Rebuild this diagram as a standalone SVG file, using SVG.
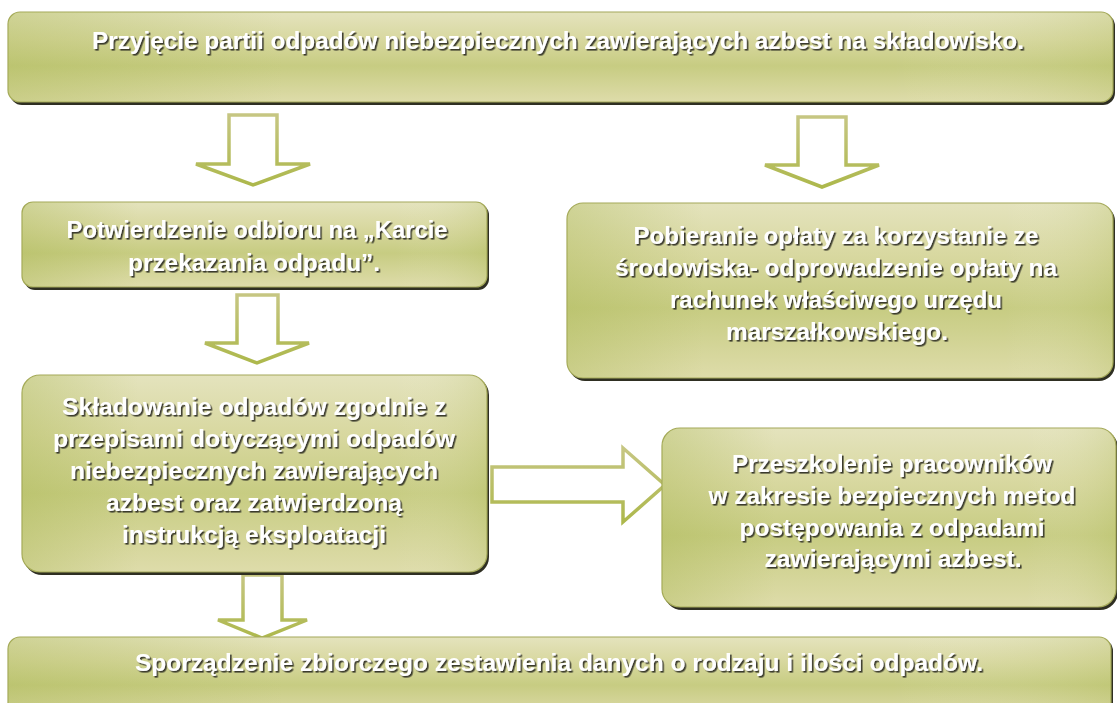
<svg xmlns="http://www.w3.org/2000/svg" width="1117" height="703" viewBox="0 0 1117 703">
  <defs>
    <linearGradient id="boxFill" x1="0" y1="0" x2="0" y2="1">
      <stop offset="0" stop-color="#e4e3bd"/>
      <stop offset="0.3" stop-color="#d8d8a0"/>
      <stop offset="0.6" stop-color="#c7cc82"/>
      <stop offset="1" stop-color="#dedcaa"/>
    </linearGradient>
    <linearGradient id="sideShade" x1="0" y1="0" x2="1" y2="0">
      <stop offset="0" stop-color="#a8b650" stop-opacity="0.35"/>
      <stop offset="0.25" stop-color="#a8b650" stop-opacity="0"/>
      <stop offset="0.8" stop-color="#ffffff" stop-opacity="0"/>
      <stop offset="1" stop-color="#a8b650" stop-opacity="0.2"/>
    </linearGradient>
    <linearGradient id="arrowStroke" x1="0" y1="0" x2="0" y2="1">
      <stop offset="0" stop-color="#c6c682"/>
      <stop offset="1" stop-color="#adb84c"/>
    </linearGradient>
    <filter id="txtShadow" x="-5%" y="-30%" width="110%" height="160%">
      <feDropShadow dx="1.6" dy="1.6" stdDeviation="0.5" flood-color="#333326" flood-opacity="0.95"/>
    </filter>
  </defs>
  <style>
    .shadow { fill: #2f2f22; }
    .box { fill: url(#boxFill); stroke: #a4a85a; stroke-width: 1.2; }
    .sheen { fill: url(#sideShade); }
    .lbl { font-family: "Liberation Sans", Arial, sans-serif; font-weight: bold; font-size: 23px; fill: #ffffff; text-anchor: middle; filter: url(#txtShadow); }
    .arrow { fill: #ffffff; stroke: url(#arrowStroke); stroke-width: 3.5; stroke-linejoin: miter; }
  </style>
  <rect width="1117" height="703" fill="#ffffff"/>

  <g id="connectors">
    <polygon class="arrow" points="229,115 277,115 277,164 310,164 253,185 196,164 229,164"/>
    <polygon class="arrow" points="237,295 278,295 278,343 309,343 257,363 205,343 237,343"/>
    <polygon class="arrow" points="798,117 846,117 846,165 879,165 822,187 765,165 798,165"/>
    <polygon class="arrow" points="243,575 282,575 282,620 307,620 262,638 218,620 243,620"/>
    <polygon class="arrow" points="492,467 623,467 623,448 665,485 623,522 623,502 492,502"/>
  </g>

  <g id="node-przyjecie">
    <rect class="shadow" x="10" y="14" width="1105" height="91" rx="12"/>
    <rect class="box" x="8" y="12" width="1105" height="90" rx="12"/>
    <rect class="sheen" x="8" y="12" width="1105" height="90" rx="12"/>
    <text class="lbl" x="558" y="49" textLength="932" lengthAdjust="spacingAndGlyphs">Przyjęcie partii odpadów niebezpiecznych zawierających azbest na składowisko.</text>
  </g>

  <g id="node-potwierdzenie">
    <rect class="shadow" x="24" y="204" width="465" height="86" rx="11"/>
    <rect class="box" x="22" y="202" width="465" height="85" rx="11"/>
    <rect class="sheen" x="22" y="202" width="465" height="85" rx="11"/>
    <text class="lbl" x="257" y="238" textLength="381" lengthAdjust="spacingAndGlyphs">Potwierdzenie odbioru na „Karcie</text>
    <text class="lbl" x="254" y="271" textLength="252" lengthAdjust="spacingAndGlyphs">przekazania odpadu”.</text>
  </g>

  <g id="node-pobieranie">
    <rect class="shadow" x="569" y="205" width="546" height="176" rx="16"/>
    <rect class="box" x="567" y="203" width="546" height="175" rx="16"/>
    <rect class="sheen" x="567" y="203" width="546" height="175" rx="16"/>
    <text class="lbl" x="836" y="244" textLength="405" lengthAdjust="spacingAndGlyphs">Pobieranie opłaty za korzystanie ze</text>
    <text class="lbl" x="836" y="276" textLength="442" lengthAdjust="spacingAndGlyphs">środowiska- odprowadzenie opłaty na</text>
    <text class="lbl" x="836" y="308" textLength="332" lengthAdjust="spacingAndGlyphs">rachunek właściwego urzędu</text>
    <text class="lbl" x="837" y="340" textLength="222" lengthAdjust="spacingAndGlyphs">marszałkowskiego.</text>
  </g>

  <g id="node-skladowanie">
    <rect class="shadow" x="24" y="377" width="465" height="198" rx="18"/>
    <rect class="box" x="22" y="375" width="465" height="197" rx="18"/>
    <rect class="sheen" x="22" y="375" width="465" height="197" rx="18"/>
    <text class="lbl" x="254" y="415" textLength="384" lengthAdjust="spacingAndGlyphs">Składowanie odpadów zgodnie z</text>
    <text class="lbl" x="254" y="447" textLength="402" lengthAdjust="spacingAndGlyphs">przepisami dotyczącymi odpadów</text>
    <text class="lbl" x="254" y="479" textLength="368" lengthAdjust="spacingAndGlyphs">niebezpiecznych zawierających</text>
    <text class="lbl" x="254" y="511" textLength="296" lengthAdjust="spacingAndGlyphs">azbest oraz zatwierdzoną</text>
    <text class="lbl" x="254" y="543" textLength="264" lengthAdjust="spacingAndGlyphs">instrukcją eksploatacji</text>
  </g>

  <g id="node-przeszkolenie">
    <rect class="shadow" x="664" y="430" width="454" height="180" rx="18"/>
    <rect class="box" x="662" y="428" width="454" height="179" rx="18"/>
    <rect class="sheen" x="662" y="428" width="454" height="179" rx="18"/>
    <text class="lbl" x="892" y="472" textLength="320" lengthAdjust="spacingAndGlyphs">Przeszkolenie pracowników</text>
    <text class="lbl" x="892" y="504" textLength="367" lengthAdjust="spacingAndGlyphs">w zakresie bezpiecznych metod</text>
    <text class="lbl" x="892" y="536" textLength="305" lengthAdjust="spacingAndGlyphs">postępowania z odpadami</text>
    <text class="lbl" x="893" y="567" textLength="257" lengthAdjust="spacingAndGlyphs">zawierającymi azbest.</text>
  </g>

  <g id="node-sporzadzenie">
    <rect class="shadow" x="10" y="639" width="1103" height="80" rx="12"/>
    <rect class="box" x="8" y="637" width="1103" height="80" rx="12"/>
    <rect class="sheen" x="8" y="637" width="1103" height="80" rx="12"/>
    <text class="lbl" x="559" y="671" textLength="848" lengthAdjust="spacingAndGlyphs">Sporządzenie zbiorczego zestawienia danych o rodzaju i ilości odpadów.</text>
  </g>
</svg>
